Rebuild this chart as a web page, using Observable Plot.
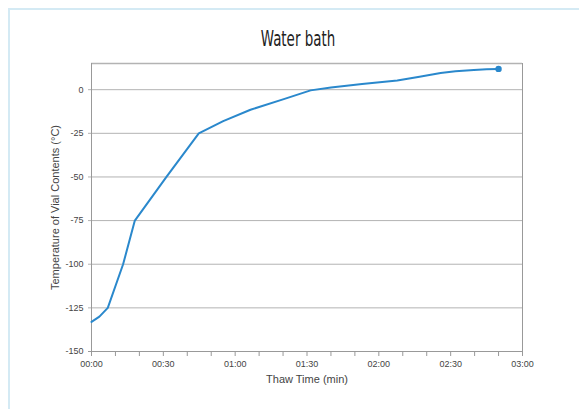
<!DOCTYPE html>
<html>
<head>
<meta charset="utf-8">
<script src="https://cdn.jsdelivr.net/npm/d3@7"></script>
<script src="https://cdn.jsdelivr.net/npm/@observablehq/plot@0.6"></script>
<style>
  html, body { margin: 0; padding: 0; background: #fff; }
  #page { position: relative; width: 579px; height: 409px; overflow: hidden; font-family: "Liberation Sans", Arial, sans-serif; }
  #frame { position: absolute; left: 8px; top: 8px; width: 600px; height: 420px; border-left: 2px solid #d4eaf4; border-top: 2px solid #d4eaf4; }
  #title { position: absolute; left: 236px; top: 27px; width: 124px; text-align: center; font-family: "DejaVu Sans Condensed", "Liberation Sans", sans-serif; font-stretch: condensed; font-size: 21px; color: #222; transform: scaleX(0.71); }
  #chart { position: absolute; left: 0; top: 55px; }
</style>
</head>
<body>
<div id="page">
  <div id="frame"></div>
  <div id="title">Water bath</div>
  <div id="chart"></div>
</div>
<script>
// time in seconds, temperature in °C
const times = [0, 3.3, 6.8, 13.2, 18.1, 31.3, 44.8, 55, 66.4, 80.3, 91.5, 100, 113, 127.7, 137, 145.8, 152, 159.7, 165, 170];
const temps = [-133, -130, -125, -100, -75, -50, -25, -18, -11.5, -5.4, -0.4, 1.3, 3.2, 5.2, 7.4, 9.6, 10.5, 11.3, 11.7, 11.9];
const yTicks = [-150, -125, -100, -75, -50, -25, 0];
const xTicks = d3.range(0, 181, 10);
const xLabels = [0, 30, 60, 90, 120, 150, 180];

const data = times.map((t, i) => ({t, v: temps[i]}));
const last = data[data.length - 1];
const fmt = s => xLabels.includes(s) ? String(Math.floor(s / 60)).padStart(2, "0") + ":" + String(s % 60).padStart(2, "0") : "";

const chart = Plot.plot({
  width: 579,
  height: 354,
  marginLeft: 91,
  marginRight: 57,
  marginTop: 8,
  marginBottom: 58,
  style: { fontFamily: "Liberation Sans, Arial, sans-serif", fontSize: "9px", color: "#444", background: "transparent" },
  x: { domain: [0, 180] },
  y: { domain: [-150, 15] },
  marks: [
    Plot.ruleY(yTicks.slice(1), { stroke: "#b3b3b3", strokeWidth: 1, strokeOpacity: 1, insetLeft: -3 }),
    Plot.ruleY([15], { stroke: "#b3b3b3", strokeWidth: 1.5 }),
    Plot.ruleX([180], { stroke: "#999", strokeWidth: 1 }),
    Plot.ruleX([0], { stroke: "#999", strokeWidth: 1 }),
    Plot.ruleY([-150], { stroke: "#999", strokeWidth: 1, insetLeft: -3 }),
    Plot.axisY({ ticks: yTicks, tickFormat: d => String(d), tickSize: 0, tickPadding: 8, label: "Temperature of Vial Contents (°C)", labelAnchor: "center", labelArrow: "none", labelOffset: 40, fontSize: 9, fill: "#444" }),
    Plot.axisX({ ticks: xTicks, tickFormat: fmt, tickSize: 5, stroke: "#999", tickPadding: 4, label: "Thaw Time (min)", labelAnchor: "center", labelArrow: "none", labelOffset: 31, fontSize: 9, fill: "#444" }),
    Plot.line(data, { x: "t", y: "v", curve: "linear", stroke: "#2a88cc", strokeWidth: 2, strokeLinejoin: "round" }),
    Plot.dot([last], { x: "t", y: "v", r: 3.2, fill: "#2a88cc" })
  ]
});
chart.querySelectorAll("g[aria-label='y-axis label'] text, g[aria-label='x-axis label'] text").forEach(t => t.setAttribute("font-size", "11"));
document.getElementById("chart").appendChild(chart);
</script>
</body>
</html>
